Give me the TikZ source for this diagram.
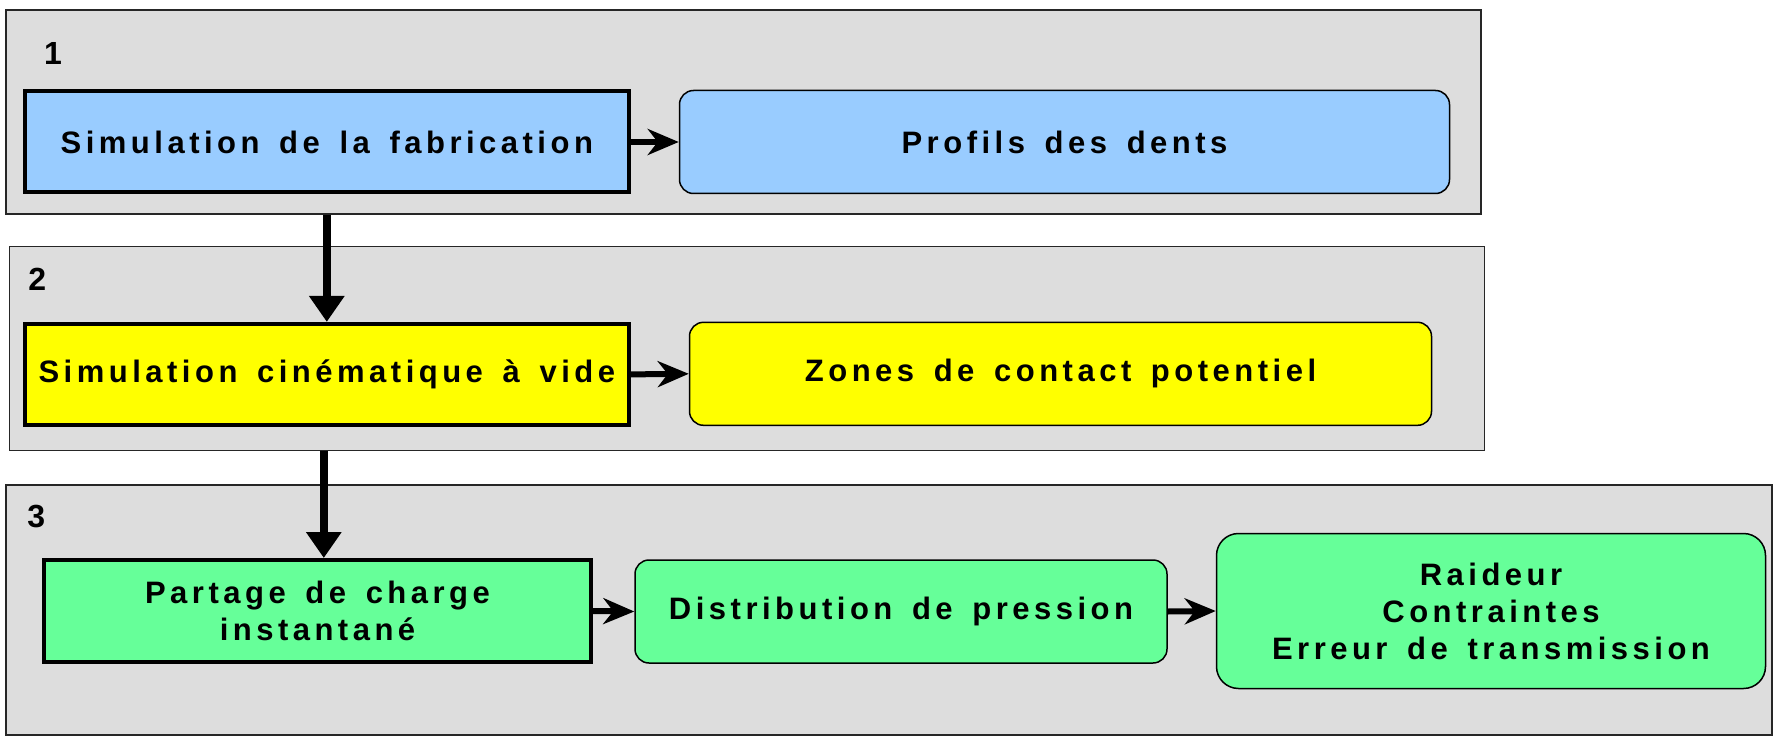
\documentclass[tikz,border=0pt]{standalone}
\usepackage{fontspec}
\setmainfont{Liberation Sans}
\newfontfamily\boxfont{Liberation Sans}[LetterSpace=14.5,WordSpace=1.5]
\usetikzlibrary{arrows.meta}
\definecolor{panelgray}{HTML}{DDDDDD}
\definecolor{bluefill}{HTML}{99CCFF}
\definecolor{yellowfill}{HTML}{FFFF00}
\definecolor{greenfill}{HTML}{66FF99}
\begin{document}
\begin{tikzpicture}[x=1pt,y=-1pt,
  panel/.style={draw=black!85, line width=1.5pt, fill=panelgray, minimum width=#1},
  txt/.style={font=\boxfont\bfseries\fontsize{31}{37}\selectfont, align=center, inner sep=0pt},
  mainbox/.style={txt, draw=black, line width=4pt, minimum height=101pt},
  outbox/.style={txt, draw=black, line width=1.5pt, rounded corners=14pt, minimum height=103pt},
  numlbl/.style={font=\bfseries\fontsize{32}{36}\selectfont, inner sep=0pt},
  harrow/.style={line width=6pt, -{Stealth[length=31pt,width=26pt,inset=10pt]}},
  varrow/.style={line width=7.5pt, -{Triangle[length=26pt,width=34pt]}}
]
\useasboundingbox (0,0) rectangle (1774,738);

% panels
\node[panel=1475pt, minimum height=204pt] (p1) at (743.4,112) {};
\node[panel=1475pt, minimum height=204pt] (p2) at (746.8,348.5) {};
\node[panel=1766pt, minimum height=250pt] (p3) at (889,610) {};

\node[numlbl] (n1) at (53,53) {1};
\node[numlbl] (n2) at (37.3,279.5) {2};
\node[numlbl] (n3) at (36.2,517) {3};

% row 1
\node[mainbox, fill=bluefill, minimum width=604pt] (b1) at (326.8,142) {Simulation de la fabrication};
\node[outbox, fill=bluefill, minimum width=770pt] (b2) at (1064.5,142) {Profils des dents};

% row 2
\node[mainbox, fill=yellowfill, minimum width=604pt] (b3) at (326.8,374.4) {Simulation cinématique à vide};
\node[outbox, fill=yellowfill, minimum width=742pt] (b4) at (1060.5,373.8) {Zones de contact potentiel};

% row 3
\node[mainbox, fill=greenfill, minimum width=547pt, minimum height=102pt] (b5) at (317.5,611) {Partage de charge\\instantané};
\node[outbox, fill=greenfill, minimum width=532pt] (b6) at (901,611.5) {Distribution de pression};
\node[outbox, fill=greenfill, minimum width=549pt, minimum height=155pt, rounded corners=22pt] (b7) at (1491,611) {Raideur\\Contraintes\\Erreur de transmission};

% connectors
\draw[harrow] (b1.east) -- (b2.west);
\draw[harrow] (b3.east) -- (b4.west);
\draw[harrow] (b5.east) -- (b6.west);
\draw[harrow] (b6.east) -- (b7.west);

\draw[varrow] (b1.south |- p1.south) -- (b3.north);
\draw[varrow] ([xshift=-3pt]b3.south |- p2.south) -- ([xshift=-3pt]b3.south |- b5.north);
\end{tikzpicture}
\end{document}
